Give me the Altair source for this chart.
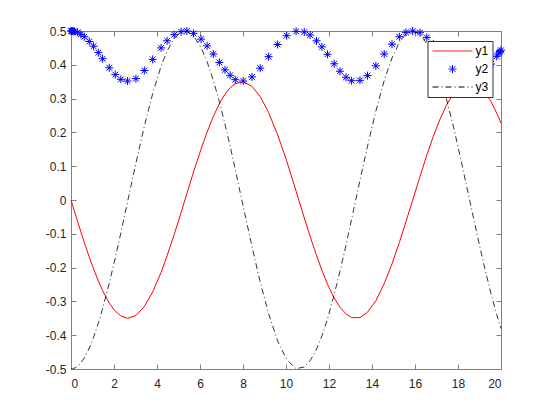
import altair as alt
import pandas as pd

# sample positions (adaptive spacing)
x_vals = [0, 0.03, 0.06, 0.1, 0.15, 0.31, 0.46, 0.62, 0.85, 1.05,
          1.27, 1.47, 1.78, 2.06, 2.32, 2.63, 3.02, 3.41, 3.80, 4.19,
          4.47, 4.80, 5.12, 5.39, 5.70, 6.05, 6.33, 6.62, 6.90, 7.16,
          7.40, 7.64, 8.01, 8.42, 8.80, 9.19, 9.61, 10.03, 10.47, 10.85,
          11.12, 11.42, 11.67, 11.93, 12.24, 12.51, 12.79, 13.05, 13.44, 13.79,
          14.18, 14.57, 14.93, 15.27, 15.58, 15.89, 16.23, 16.55, 16.85, 17.15,
          17.45, 17.80, 18.15, 18.50, 18.85, 19.20, 19.53, 19.80, 19.90, 19.95, 20.0]

y1_vals = [0, -0.006, -0.012, -0.021, -0.031, -0.064, -0.094, -0.126, -0.169, -0.204,
           -0.239, -0.268, -0.305, -0.329, -0.343, -0.350, -0.342, -0.315, -0.272, -0.214,
           -0.165, -0.102, -0.037, 0.019, 0.083, 0.151, 0.201, 0.247, 0.285, 0.313,
           0.332, 0.344, 0.350, 0.336, 0.306, 0.259, 0.193, 0.116, 0.026, -0.053,
           -0.107, -0.164, -0.208, -0.249, -0.290, -0.317, -0.337, -0.348, -0.348, -0.332,
           -0.298, -0.247, -0.189, -0.126, -0.064, -0.001, 0.069, 0.133, 0.188, 0.237,
           0.279, 0.316, 0.341, 0.350, 0.344, 0.324, 0.292, 0.257, 0.243, 0.235, 0.227]

y2_vals = [0.5, 0.5, 0.5, 0.499, 0.499, 0.496, 0.490, 0.483, 0.469, 0.455,
           0.436, 0.418, 0.391, 0.371, 0.357, 0.352, 0.359, 0.383, 0.416, 0.450,
           0.471, 0.489, 0.498, 0.500, 0.493, 0.476, 0.456, 0.432, 0.407, 0.385,
           0.369, 0.356, 0.352, 0.364, 0.390, 0.424, 0.460, 0.486, 0.499, 0.497,
           0.488, 0.471, 0.453, 0.431, 0.403, 0.381, 0.363, 0.353, 0.354, 0.368,
           0.397, 0.432, 0.461, 0.483, 0.496, 0.500, 0.495, 0.481, 0.462, 0.437,
           0.411, 0.382, 0.360, 0.352, 0.356, 0.376, 0.402, 0.425, 0.435, 0.439, 0.443]

y3_vals = [-0.5, -0.5, -0.5, -0.499, -0.498, -0.492, -0.481, -0.467, -0.438, -0.406,
           -0.365, -0.321, -0.246, -0.171, -0.097, -0.005, 0.109, 0.218, 0.315, 0.396,
           0.441, 0.478, 0.497, 0.499, 0.486, 0.451, 0.409, 0.354, 0.291, 0.225,
           0.160, 0.090, -0.019, -0.138, -0.243, -0.336, -0.417, -0.472, -0.499, -0.494,
           -0.476, -0.441, -0.402, -0.352, -0.280, -0.211, -0.134, -0.057, 0.058, 0.159,
           0.263, 0.354, 0.420, 0.466, 0.491, 0.500, 0.490, 0.463, 0.422, 0.368,
           0.302, 0.214, 0.115, 0.012, -0.091, -0.190, -0.276, -0.339, -0.361, -0.371, -0.380]

series_names = ["y1", "y2", "y3"]
series_colors = ["#ff0000", "#0000ff", "#000000"]
x_ticks = [0, 2, 4, 6, 8, 10, 12, 14, 16, 18, 20]
y_ticks = [-0.5, -0.4, -0.3, -0.2, -0.1, 0, 0.1, 0.2, 0.3, 0.4, 0.5]

rows = []
for name, ys in zip(series_names, [y1_vals, y2_vals, y3_vals]):
    for xv, yv in zip(x_vals, ys):
        rows.append({"x": xv, "y": yv, "series": name})
df = pd.DataFrame(rows)

FONT = "Liberation Sans"
AX_GRAY = "#808080"
LBL = "#262626"
STAR = "M-1,0L1,0M0,-1L0,1M-0.72,-0.72L0.72,0.72M-0.72,0.72L0.72,-0.72"
LEG_LINE = "M-5,0L5,0"

xscale = alt.Scale(domain=[0, 20], nice=False, zero=False)
yscale = alt.Scale(domain=[-0.5, 0.5], nice=False, zero=False)

legend = alt.Legend(
    title=None, orient="none", legendX=356.5, legendY=10,
    fillColor="white", strokeColor="#333333", padding=4,
    symbolSize=64, symbolStrokeWidth=1, symbolOffset=15,
    symbolType=alt.ExprRef(expr="datum.value === 'y2' ? '" + STAR + "' : '" + LEG_LINE + "'"),
    symbolDash=alt.ExprRef(expr="datum.value === 'y3' ? [6,3,1,3] : [1,0]"),
    symbolStrokeColor=alt.ExprRef(expr="scale('color', datum.value)"),
    symbolFillColor="transparent",
    labelFont=FONT, labelFontSize=12, labelColor="#000000", labelOffset=17,
    rowPadding=6,
)
color = alt.Color("series:N", scale=alt.Scale(domain=series_names, range=series_colors),
                  legend=legend)

common_axis = dict(domain=False, grid=False, tickSize=5, offset=-5, tickColor=AX_GRAY,
                   tickWidth=1, title=None, labelFont=FONT, labelFontSize=12,
                   labelColor=LBL, labelExpr="'' + datum.value")

ax_bottom = alt.Axis(orient="bottom", values=x_ticks, labelPadding=9, **common_axis)
ax_left = alt.Axis(orient="left", values=y_ticks, labelPadding=5, **common_axis)
ax_top = alt.Axis(orient="top", values=x_ticks, labels=False, **common_axis)
ax_right = alt.Axis(orient="right", values=y_ticks, labels=False, **common_axis)

base = alt.Chart(df)

l1 = base.transform_filter("datum.series === 'y1'").mark_line(strokeWidth=1).encode(
    x=alt.X("x:Q", scale=xscale, axis=ax_bottom),
    y=alt.Y("y:Q", scale=yscale, axis=ax_left),
    color=color,
)

l2 = base.transform_filter("datum.series === 'y2'").mark_point(
    shape=STAR, filled=False, size=64, strokeWidth=1, opacity=1
).encode(
    x=alt.X("x:Q", scale=xscale, axis=None),
    y=alt.Y("y:Q", scale=yscale, axis=None),
    color=color,
)

l3 = base.transform_filter("datum.series === 'y3'").mark_line(
    strokeWidth=0.8, strokeDash=[6, 3, 1, 3]
).encode(
    x=alt.X("x:Q", scale=xscale, axis=ax_top),
    y=alt.Y("y:Q", scale=yscale, axis=ax_right),
    color=color,
)

chart = alt.layer(l1, l2, l3).resolve_axis(
    x="independent", y="independent"
).properties(
    width=430, height=338,
    padding={"left": 63, "top": 23, "right": 45, "bottom": 30},
    autosize=alt.AutoSizeParams(type="none"),
    background="white",
).configure_view(stroke=AX_GRAY, strokeWidth=1)

chart.save("out.html", embed_options={"renderer": "svg", "actions": False})
